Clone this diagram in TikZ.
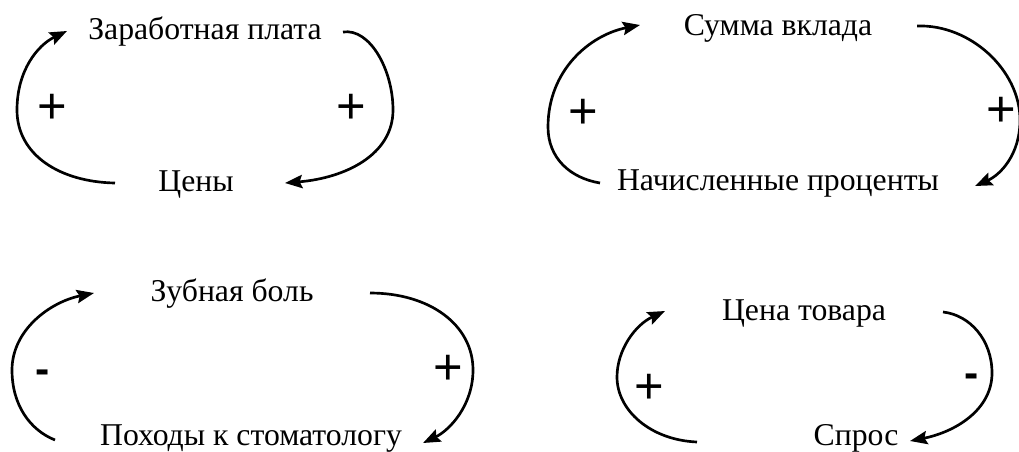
\documentclass[tikz,border=0pt]{standalone}
\usepackage{fontspec}
\setmainfont{Liberation Serif}
\newfontfamily\signfont{Liberation Sans}
\usetikzlibrary{arrows.meta}
\begin{document}
\begin{tikzpicture}[x=0.75pt,y=-0.75pt,
  lbl/.style={anchor=base,inner sep=0pt,font=\fontsize{23.8}{26}\selectfont},
  sgn/.style={anchor=center,inner sep=0pt,font=\signfont\fontsize{38}{40}\selectfont},
  msgn/.style={anchor=center,inner sep=0pt,font=\signfont\bfseries\fontsize{32}{34}\selectfont},
  arc/.style={line width=2pt,-{Stealth[length=13pt,width=10pt,inset=2pt]}}]
\useasboundingbox (0,0) rectangle (1019,451);
% Diagram 1
\node[lbl] (t1) at (205,39) {Заработная плата};
\node[lbl] (b1) at (196,191) {Цены};
\node[sgn] (pl1) at (52,109) {+};
\node[sgn] (pr1) at (351,109) {+};
\coordinate (l1s) at (115,183); \coordinate (l1e) at (67,31);
\coordinate (r1s) at (343,32); \coordinate (r1e) at (285,183);
\draw[arc] (l1s) .. controls (60,182) and (17,155) .. (17,110) .. controls (17,70) and (38,45) .. (l1e);
\draw[arc] (r1s) .. controls (370,28) and (393,70) .. (393,110) .. controls (393,155) and (345,178) .. (r1e);
% Diagram 2
\node[lbl] (t2) at (778,35) {Сумма вклада};
\node[lbl] (b2) at (778,190) {Начисленные проценты};
\node[sgn] (pl2) at (583,114) {+};
\node[sgn] (pr2) at (1001,112) {+};
\coordinate (l2s) at (600,183); \coordinate (l2e) at (640,25);
\coordinate (r2s) at (917,26); \coordinate (r2e) at (975,186);
\draw[arc] (l2s) .. controls (570,178) and (548,158) .. (548,127) .. controls (548,70) and (590,35) .. (l2e);
\draw[arc] (r2s) .. controls (970,24) and (1020,70) .. (1020,120) .. controls (1020,155) and (1000,175) .. (r2e);
% Diagram 3
\node[lbl] (t3) at (232,301) {Зубная боль};
\node[lbl] (b3) at (251,445) {Походы к стоматологу};
\node[msgn] (pl3) at (43,377) {-};
\node[sgn] (pr3) at (448,370) {+};
\coordinate (l3s) at (55,440); \coordinate (l3e) at (94,293);
\coordinate (r3s) at (370,293); \coordinate (r3e) at (423,443);
\draw[arc] (l3s) .. controls (30,430) and (12,405) .. (12,370) .. controls (12,330) and (50,302) .. (l3e);
\draw[arc] (r3s) .. controls (430,293) and (473,325) .. (473,370) .. controls (473,405) and (450,430) .. (r3e);
% Diagram 4
\node[lbl] (t4) at (804,320) {Цена товара};
\node[lbl] (b4) at (856,445) {Спрос};
\node[sgn] (pl4) at (649,389) {+};
\node[msgn] (pr4) at (972,381) {-};
\coordinate (l4s) at (697,442); \coordinate (l4e) at (665,311);
\coordinate (r4s) at (943,312); \coordinate (r4e) at (910,441);
\draw[arc] (l4s) .. controls (650,440) and (617,410) .. (617,377) .. controls (617,350) and (635,325) .. (l4e);
\draw[arc] (r4s) .. controls (970,315) and (992,340) .. (992,373) .. controls (992,410) and (955,432) .. (r4e);
\end{tikzpicture}
\end{document}
